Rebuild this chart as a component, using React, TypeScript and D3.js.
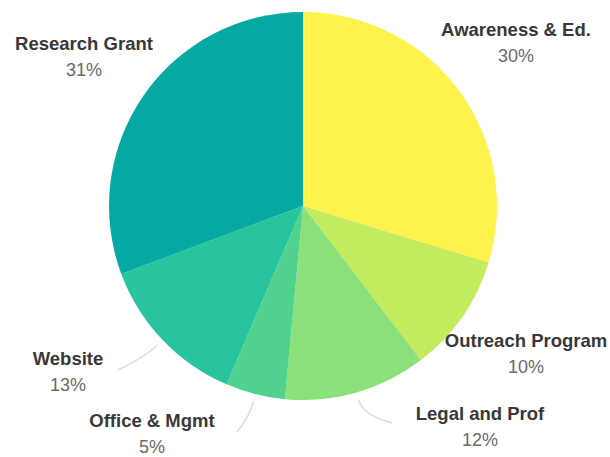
import React, { useEffect, useRef } from 'react';
import * as d3 from 'd3';

// budget split, clockwise from 12 o'clock
const categories = ['Awareness & Ed.', 'Outreach Program', 'Legal and Prof', 'Office & Mgmt', 'Website', 'Research Grant'];
const shares = [30, 10, 12, 5, 13, 31];
const colors = ['#FFF24B', '#C3EB5E', '#8CE07A', '#50D18E', '#27C49D', '#05A9A2'];

// label anchor points (layout only) and whether a leader line is drawn
const labelPos: [number, number][] = [
  [516, 36], [526, 347], [480, 420], [152, 427], [68, 365], [84, 50],
];
const leaderEnd: ([number, number] | null)[] = [
  null, null, [392, 423], [237, 432], [118, 370], null,
];

const App: React.FC = () => {
  const svgRef = useRef<SVGSVGElement>(null);

  useEffect(() => {
    if (!svgRef.current) return;
    const width = 610;
    const height = 457;
    const cx = 303;
    const cy = 206;
    const radius = 194;

    const svg = d3.select(svgRef.current);
    svg.selectAll('*').remove();

    const data = categories.map((c, i) => ({ name: c, value: shares[i], color: colors[i], idx: i }));

    const pie = d3.pie<any>().value(d => d.value).sort(null);
    const arc = d3.arc<any>().innerRadius(0).outerRadius(radius);
    const arcs = pie(data);

    const g = svg.append('g').attr('transform', `translate(${cx},${cy})`);

    g.selectAll('path.slice')
      .data(arcs)
      .join('path')
      .attr('class', 'slice')
      .attr('d', arc as any)
      .attr('fill', d => d.data.color);

    // leader lines
    arcs.forEach(a => {
      const end = leaderEnd[a.data.idx];
      if (!end) return;
      const mid = (a.startAngle + a.endAngle) / 2;
      const r0 = radius + 8;
      const sx = cx + Math.sin(mid) * r0;
      const sy = cy - Math.cos(mid) * r0;
      const ex = end[0];
      const ey = end[1];
      const r1 = radius + 24;
      const qx = cx + Math.sin(mid) * r1;
      const qy = cy - Math.cos(mid) * r1;
      const path = d3.path();
      path.moveTo(sx, sy);
      path.quadraticCurveTo(qx, qy, ex, ey);
      svg.append('path')
        .attr('d', path.toString())
        .attr('fill', 'none')
        .attr('stroke', '#dcdcdc')
        .attr('stroke-width', 1.5);
    });

    // labels
    data.forEach((d, i) => {
      const [lx, ly] = labelPos[i];
      svg.append('text')
        .attr('x', lx)
        .attr('y', ly)
        .attr('text-anchor', 'middle')
        .attr('font-family', '"Liberation Sans", Arial, sans-serif')
        .attr('font-weight', 700)
        .attr('font-size', 18.5)
        .attr('fill', '#383838')
        .text(d.name);
      svg.append('text')
        .attr('x', lx)
        .attr('y', ly + 26)
        .attr('text-anchor', 'middle')
        .attr('font-family', '"Liberation Sans", Arial, sans-serif')
        .attr('font-size', 18)
        .attr('fill', '#6a6a6a')
        .text(`${d.value}%`);
    });

    svg.attr('width', width).attr('height', height);
  }, []);

  return (
    <svg
      ref={svgRef}
      width={610}
      height={457}
      style={{ position: 'absolute', top: 0, left: 0, background: '#ffffff' }}
    />
  );
};

export default App;
